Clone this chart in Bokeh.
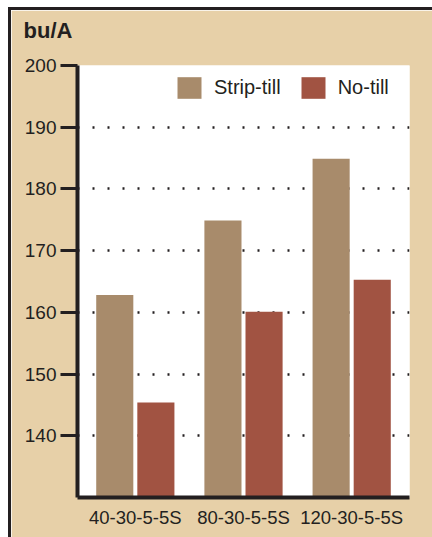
from bokeh.plotting import figure
from bokeh.models import (FactorRange, ColumnDataSource, FixedTicker, Grid, Legend,
                          LegendItem, Title)
from bokeh.transform import dodge
from bokeh.embed import file_html
from bokeh.resources import INLINE

# ---- data ----
categories = ["40-30-5-5S", "80-30-5-5S", "120-30-5-5S"]
series_names = ["Strip-till", "No-till"]
strip_till = [162.8, 174.9, 184.9]
no_till = [145.4, 160.1, 165.3]
y_ticks = [140, 150, 160, 170, 180, 190, 200]
grid_ticks = [140, 150, 160, 170, 180, 190]
y_title = "bu/A"

BEIGE = "#E7D0A8"
DARK = "#231F20"
STRIP = "#A88B6B"
NOTILL = "#A15342"
FONT = "Liberation Sans"

src = ColumnDataSource(dict(cat=categories, strip=strip_till, notill=no_till))

p = figure(x_range=FactorRange(*categories, range_padding=0.023),
           y_range=(130, 200),
           width=421, height=527,
           output_backend="svg", toolbar_location=None,
           background_fill_color="white", border_fill_color=BEIGE,
           min_border_left=66, min_border_right=23,
           min_border_top=55, min_border_bottom=40,
           outline_line_color=None,
           styles={"margin-left": "11px", "margin-top": "10px",
                   "box-shadow": ("0px -3px 0px 0px %s, -3px 0px 0px 0px %s, "
                                  "-3px -3px 0px 0px %s") % (DARK, DARK, DARK)})

# spacer panel next to the frame, then the unit title above it
p.add_layout(Title(text=" ", standoff=0, text_font=FONT, text_font_size="18px"),
             "above")
p.add_layout(Title(text=y_title, align="left", offset=-54, standoff=2,
                   text_font=FONT, text_font_size="22px", text_font_style="bold",
                   text_color=DARK), "above")

r1 = p.vbar(x=dodge("cat", -0.19, range=p.x_range), top="strip", bottom=130,
            width=0.343, source=src, fill_color=STRIP, line_color=None)
r2 = p.vbar(x=dodge("cat", 0.19, range=p.x_range), top="notill", bottom=130,
            width=0.343, source=src, fill_color=NOTILL, line_color=None)

# grids
p.xgrid.visible = False
p.ygrid.visible = False
g = Grid(dimension=1, ticker=FixedTicker(ticks=grid_ticks),
         grid_line_color=DARK, grid_line_width=2.5, grid_line_dash="2 13",
         grid_line_dash_offset=0, level="underlay")
p.add_layout(g)

# y axis
ya = p.yaxis[0]
ya.ticker = FixedTicker(ticks=y_ticks)
ya.axis_line_width = 4
ya.axis_line_color = DARK
ya.major_tick_out = 17
ya.major_tick_in = 0
ya.major_tick_line_width = 3
ya.major_tick_line_color = DARK
ya.minor_tick_line_color = None
ya.major_label_standoff = 4
ya.major_label_text_font = FONT
ya.major_label_text_font_size = "19px"
ya.major_label_text_color = DARK

# x axis
xa = p.xaxis[0]
xa.axis_line_width = 4
xa.axis_line_color = DARK
xa.major_tick_out = 0
xa.major_tick_in = 0
xa.major_tick_line_color = None
xa.minor_tick_line_color = None
xa.major_label_standoff = 9
xa.major_label_text_font = FONT
xa.major_label_text_font_size = "18.5px"
xa.major_label_text_color = DARK

legend = Legend(items=[LegendItem(label=series_names[0], renderers=[r1]),
                       LegendItem(label=series_names[1], renderers=[r2])],
                location=(97, 396), orientation="horizontal",
                glyph_width=30, glyph_height=27, label_standoff=10,
                spacing=17, padding=0, margin=0,
                label_text_font=FONT, label_text_font_size="20px",
                label_text_color=DARK,
                border_line_color=None, background_fill_alpha=0)
p.add_layout(legend)

open("out.html", "w").write(file_html(p, INLINE))
